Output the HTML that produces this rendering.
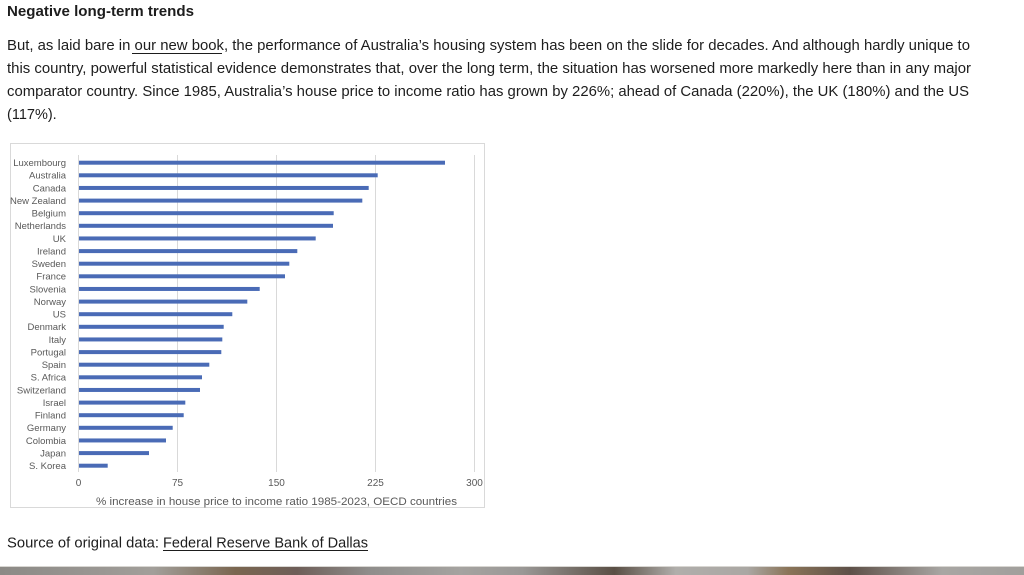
<!DOCTYPE html>
<html>
<head>
<meta charset="utf-8">
<style>
  html, body { margin: 0; padding: 0; background: #ffffff; }
  body { width: 1024px; height: 575px; overflow: hidden; position: relative; }
  svg { display: block; }
</style>
</head>
<body>
<svg width="1024" height="575" viewBox="0 0 1024 575" xmlns="http://www.w3.org/2000/svg">
  <defs>
    <linearGradient id="strip" x1="0" y1="0" x2="1" y2="0">
      <stop offset="0" stop-color="#8c8a86"/>
      <stop offset="0.10" stop-color="#9a9793"/>
      <stop offset="0.15" stop-color="#a29f9a"/>
      <stop offset="0.23" stop-color="#7a6650"/>
      <stop offset="0.29" stop-color="#6e5e58"/>
      <stop offset="0.36" stop-color="#8f8d8b"/>
      <stop offset="0.45" stop-color="#a5a3a0"/>
      <stop offset="0.51" stop-color="#9a9896"/>
      <stop offset="0.60" stop-color="#5a4f45"/>
      <stop offset="0.66" stop-color="#b0aeab"/>
      <stop offset="0.73" stop-color="#aaa7a3"/>
      <stop offset="0.77" stop-color="#8a7458"/>
      <stop offset="0.83" stop-color="#5e5048"/>
      <stop offset="0.92" stop-color="#a8a6a3"/>
      <stop offset="1" stop-color="#a19f9c"/>
    </linearGradient>
  </defs>

  <!-- Heading -->
  <text x="7" y="16" font-family="Liberation Sans, sans-serif" font-weight="bold" font-size="14.5" fill="#1d1d1d" textLength="187" lengthAdjust="spacingAndGlyphs">Negative long-term trends</text>

  <!-- Body paragraph -->
  <g font-family="Liberation Sans, sans-serif" font-size="14.5" fill="#1d1d1d">
    <text x="7" y="50" textLength="963" lengthAdjust="spacingAndGlyphs">But, as laid bare in our new book, the performance of Australia’s housing system has been on the slide for decades. And although hardly unique to</text>
    <text x="7" y="73" textLength="964" lengthAdjust="spacingAndGlyphs">this country, powerful statistical evidence demonstrates that, over the long term, the situation has worsened more markedly here than in any major</text>
    <text x="7" y="96" textLength="962" lengthAdjust="spacingAndGlyphs">comparator country. Since 1985, Australia’s house price to income ratio has grown by 226%; ahead of Canada (220%), the UK (180%) and the US</text>
    <text x="7" y="119">(117%).</text>
  </g>
  <line x1="132" y1="53.5" x2="222" y2="53.5" stroke="#1d1d1d" stroke-width="1"/>

  <!-- Chart frame -->
  <rect x="10.5" y="143.5" width="474" height="364" fill="#ffffff" stroke="#d9d9d9" stroke-width="1"/>

  <!-- Gridlines -->
  <g stroke="#d9d9d9" stroke-width="1">
    <line x1="78.5" y1="155" x2="78.5" y2="472"/>
    <line x1="177.5" y1="155" x2="177.5" y2="472"/>
    <line x1="276.5" y1="155" x2="276.5" y2="472"/>
    <line x1="375.5" y1="155" x2="375.5" y2="472"/>
    <line x1="474.5" y1="155" x2="474.5" y2="472"/>
  </g>

  <!-- Bars -->
  <g fill="#4a6bb6">
    <rect x="79" y="160.7" width="366" height="4"/>
    <rect x="79" y="173.3" width="298.7" height="4"/>
    <rect x="79" y="185.95" width="289.7" height="4"/>
    <rect x="79" y="198.6" width="283.3" height="4"/>
    <rect x="79" y="211.2" width="254.7" height="4"/>
    <rect x="79" y="223.8" width="254" height="4"/>
    <rect x="79" y="236.45" width="236.7" height="4"/>
    <rect x="79" y="249.1" width="218.3" height="4"/>
    <rect x="79" y="261.7" width="210.3" height="4"/>
    <rect x="79" y="274.3" width="206" height="4"/>
    <rect x="79" y="286.95" width="180.7" height="4"/>
    <rect x="79" y="299.6" width="168.3" height="4"/>
    <rect x="79" y="312.2" width="153.3" height="4"/>
    <rect x="79" y="324.8" width="144.7" height="4"/>
    <rect x="79" y="337.45" width="143.3" height="4"/>
    <rect x="79" y="350.1" width="142.3" height="4"/>
    <rect x="79" y="362.7" width="130.3" height="4"/>
    <rect x="79" y="375.3" width="123" height="4"/>
    <rect x="79" y="387.95" width="121" height="4"/>
    <rect x="79" y="400.6" width="106.3" height="4"/>
    <rect x="79" y="413.2" width="104.7" height="4"/>
    <rect x="79" y="425.8" width="93.7" height="4"/>
    <rect x="79" y="438.45" width="87" height="4"/>
    <rect x="79" y="451.1" width="70" height="4"/>
    <rect x="79" y="463.7" width="28.7" height="4"/>
  </g>

  <!-- Category labels -->
  <g font-family="Liberation Sans, sans-serif" font-size="9.5" fill="#595959" text-anchor="end">
    <text x="66" y="166">Luxembourg</text>
    <text x="66" y="178.6">Australia</text>
    <text x="66" y="191.25">Canada</text>
    <text x="66" y="203.9">New Zealand</text>
    <text x="66" y="216.5">Belgium</text>
    <text x="66" y="229.1">Netherlands</text>
    <text x="66" y="241.75">UK</text>
    <text x="66" y="254.4">Ireland</text>
    <text x="66" y="267">Sweden</text>
    <text x="66" y="279.6">France</text>
    <text x="66" y="292.25">Slovenia</text>
    <text x="66" y="304.9">Norway</text>
    <text x="66" y="317.5">US</text>
    <text x="66" y="330.1">Denmark</text>
    <text x="66" y="342.75">Italy</text>
    <text x="66" y="355.4">Portugal</text>
    <text x="66" y="368">Spain</text>
    <text x="66" y="380.6">S. Africa</text>
    <text x="66" y="393.25">Switzerland</text>
    <text x="66" y="405.9">Israel</text>
    <text x="66" y="418.5">Finland</text>
    <text x="66" y="431.1">Germany</text>
    <text x="66" y="443.75">Colombia</text>
    <text x="66" y="456.4">Japan</text>
    <text x="66" y="469">S. Korea</text>
  </g>

  <!-- Tick labels -->
  <g font-family="Liberation Sans, sans-serif" font-size="10" fill="#595959" text-anchor="middle">
    <text x="78.5" y="486">0</text>
    <text x="177.5" y="486">75</text>
    <text x="276.5" y="486">150</text>
    <text x="375.5" y="486">225</text>
    <text x="474.5" y="486">300</text>
  </g>

  <!-- Axis title -->
  <text x="96" y="505" font-family="Liberation Sans, sans-serif" font-size="11" fill="#595959" textLength="361" lengthAdjust="spacingAndGlyphs">% increase in house price to income ratio 1985-2023, OECD countries</text>

  <!-- Source line -->
  <g font-family="Liberation Sans, sans-serif" font-size="14.5" fill="#1d1d1d">
    <text x="7" y="547.5" textLength="152" lengthAdjust="spacingAndGlyphs">Source of original data:</text>
    <text x="163" y="547.5" textLength="205" lengthAdjust="spacingAndGlyphs">Federal Reserve Bank of Dallas</text>
  </g>
  <line x1="163" y1="550.5" x2="368" y2="550.5" stroke="#1d1d1d" stroke-width="1"/>

  <!-- Bottom image strip -->
  <rect x="0" y="566" width="1024" height="9" fill="url(#strip)"/>
  <line x1="0" y1="566.5" x2="1024" y2="566.5" stroke="#d8d6d2" stroke-width="1"/>
</svg>
</body>
</html>
